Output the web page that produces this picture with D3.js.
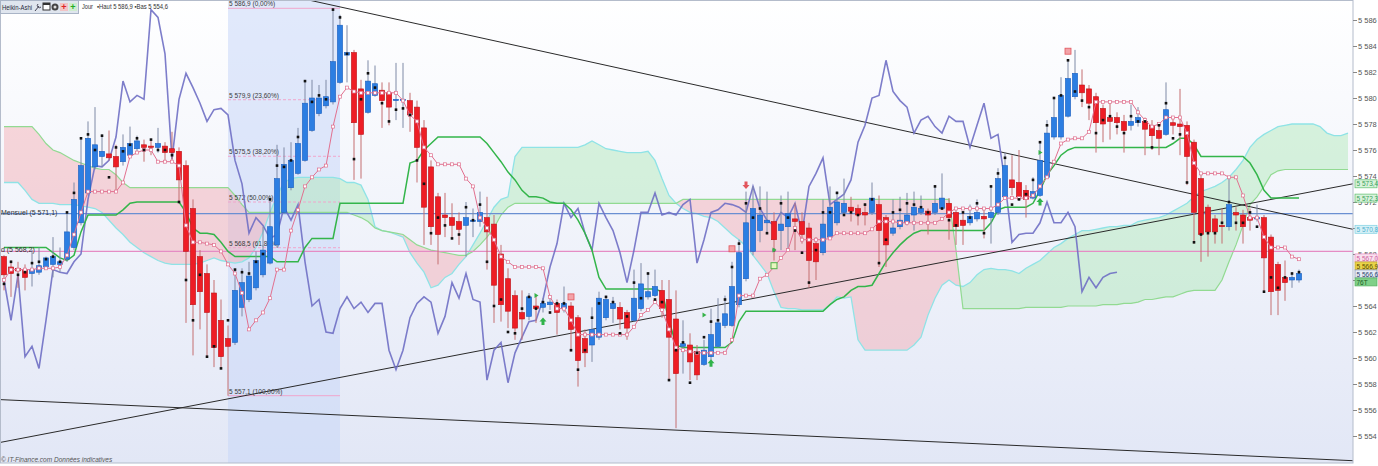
<!DOCTYPE html>
<html><head><meta charset="utf-8">
<script src="https://cdn.jsdelivr.net/npm/d3@7"></script>
<style>body{margin:0;background:#fff;} svg{display:block;font-family:Arial,"Liberation Sans",sans-serif;}</style>
</head><body><svg id="c" width="1378" height="466"></svg>
<script>
// ---------- DATA ----------
const haOpen = [5567.8,5567.0,5566.9,5566.8,5566.5,5566.6,5567.0,5567.2,5567.2,5567.6,
5568.5,5570.4,5572.7,5574.7,5575.5,5575.7,5575.5,5575.1,5575.6,5576.1,
5576.4,5576.3,5576.2,5576.3,5576.1,5575.9,5574.8,5571.5,5567.8,5566.5,
5565.0,5562.9,5561.5,5561.2,5563.9,5564.5,5565.4,5566.4,5567.3,5568.7,
5571.2,5573.1,5574.2,5575.2,5577.5,5578.8,5579.4,5579.7,5581.2,5583.3,
5583.5,5580.7,5578.9,5580.2,5580.6,5580.4,5579.8,5579.8,5579.8,5579.3,
5577.7,5574.7,5572.4,5571.0,5570.8,5570.5,5570.2,5570.5,5570.5,5570.8,
5570.3,5568.0,5566.1,5564.8,5563.5,5563.2,5564.0,5563.9,5564.1,5564.2,
5563.8,5564.0,5563.1,5561.5,5561.0,5561.6,5563.1,5563.8,5563.9,5563.5,
5562.9,5563.8,5564.7,5564.8,5565.2,5564.5,5563.0,5560.9,5561.0,5560.5,
5559.5,5560.1,5560.9,5562.5,5562.5,5564.1,5566.1,5568.2,5569.8,5570.4,
5570.5,5569.8,5570.1,5570.7,5570.5,5570.0,5568.8,5568.1,5569.3,5570.4,
5571.2,5571.6,5571.5,5571.2,5571.2,5571.8,5570.8,5569.6,5570.1,5570.4,
5571.0,5571.2,5571.3,5571.2,5571.5,5571.9,5571.2,5570.6,5570.4,5570.7,
5570.9,5570.8,5571.2,5572.4,5573.7,5573.5,5572.9,5572.3,5572.5,5573.9,
5577.0,5577.0,5578.6,5580.1,5581.0,5580.7,5580.1,5579.2,5578.5,5578.5,
5578.2,5577.9,5578.1,5578.2,5577.9,5577.5,5577.2,5578.1,5578.0,5577.9,
5576.6,5573.8,5571.6,5570.7,5570.2,5570.1,5571.2,5571.0,5570.8,5570.7,
5570.8,5569.3,5567.2,5566.2,5566.0,5566.0];
const haHigh = [5567.9,5567.5,5567.4,5567.2,5568.3,5568.5,5567.8,5569.3,5568.5,5571.2,
5573.5,5576.9,5578.2,5579.3,5577.2,5577.5,5576.4,5577.2,5577.8,5577.1,
5576.8,5576.8,5577.7,5576.6,5577.4,5576.2,5575.2,5572.2,5568.3,5567.2,
5566.0,5564.5,5562.5,5566.8,5566.9,5567.4,5568.2,5570.1,5572.2,5576.4,
5576.2,5576.6,5577.7,5581.3,5581.4,5581.0,5581.4,5586.9,5586.4,5585.6,
5583.7,5581.4,5582.9,5582.5,5581.2,5581.2,5582.7,5582.7,5580.4,5579.8,
5578.3,5575.2,5572.7,5572.7,5571.9,5571.2,5572.0,5571.5,5572.8,5572.4,
5571.0,5568.7,5566.9,5565.2,5565.2,5565.0,5564.8,5564.6,5564.8,5564.5,
5565.5,5564.3,5563.3,5562.2,5563.9,5565.1,5564.8,5564.7,5564.3,5563.7,
5566.8,5567.3,5566.6,5566.8,5566.0,5566.0,5565.2,5562.9,5561.9,5561.0,
5561.4,5563.8,5564.6,5564.8,5567.4,5569.1,5572.8,5573.2,5573.2,5572.8,
5571.2,5572.5,5572.8,5571.9,5571.2,5570.4,5569.3,5572.2,5573.2,5572.8,
5573.8,5572.4,5571.8,5571.9,5573.5,5572.5,5571.0,5572.2,5572.4,5572.7,
5572.8,5572.5,5571.5,5573.3,5574.2,5572.3,5571.5,5571.2,5571.8,5572.2,
5571.4,5573.2,5574.6,5575.8,5575.6,5576.0,5573.3,5573.9,5576.6,5578.3,
5580.0,5581.6,5582.9,5583.7,5582.2,5581.0,5580.4,5579.5,5579.7,5578.9,
5578.7,5579.5,5579.3,5578.5,5578.3,5577.9,5581.2,5578.5,5580.7,5578.2,
5576.8,5574.1,5571.8,5571.0,5571.5,5573.9,5571.6,5571.4,5571.5,5571.8,
5571.0,5569.5,5567.4,5567.5,5566.6,5566.8];
const haLow = [5565.2,5564.7,5565.4,5565.2,5565.5,5566.4,5566.8,5566.2,5566.6,5567.4,
5568.3,5570.2,5572.5,5574.5,5574.7,5575.2,5572.9,5574.8,5575.5,5575.9,
5575.1,5575.6,5575.8,5575.1,5575.2,5572.0,5562.7,5560.2,5562.2,5560.0,
5559.3,5559.2,5557.1,5561.0,5563.2,5564.3,5565.2,5566.2,5567.2,5568.5,
5571.1,5572.9,5574.1,5575.1,5577.4,5578.6,5579.2,5579.5,5581.1,5581.2,
5573.7,5573.8,5578.8,5580.1,5577.7,5577.9,5578.3,5577.7,5577.4,5573.5,
5568.7,5568.7,5567.2,5569.3,5569.3,5568.7,5567.8,5569.3,5570.1,5566.8,
5562.7,5562.8,5562.3,5561.4,5561.4,5562.9,5562.7,5563.5,5563.7,5561.8,
5563.5,5560.5,5557.8,5559.3,5559.7,5561.4,5562.9,5562.7,5562.2,5561.4,
5562.8,5563.6,5564.5,5564.7,5563.1,5558.3,5554.6,5558.8,5558.3,5558.3,
5559.4,5559.8,5560.8,5562.3,5562.4,5563.9,5565.9,5567.9,5568.9,5569.6,
5567.5,5568.3,5568.3,5568.3,5568.8,5565.4,5566.0,5567.9,5569.1,5570.2,
5571.0,5570.5,5570.2,5570.2,5571.0,5567.0,5567.0,5569.4,5569.9,5570.2,
5569.8,5571.0,5569.5,5571.0,5571.4,5569.1,5568.7,5568.7,5570.2,5570.5,
5569.2,5568.8,5571.0,5572.2,5572.5,5572.2,5570.8,5572.2,5572.4,5573.8,
5576.8,5576.8,5578.5,5579.9,5579.3,5578.3,5575.8,5576.6,5576.8,5577.2,
5575.8,5577.5,5577.8,5575.6,5576.0,5575.6,5577.1,5577.2,5575.6,5573.3,
5568.8,5567.4,5567.8,5568.8,5568.8,5569.8,5569.8,5568.8,5569.8,5570.5,
5565.0,5563.3,5563.3,5564.4,5565.4,5565.8];
const haClose = [5566.4,5566.5,5566.7,5566.2,5566.8,5567.1,5567.7,5567.8,5567.4,5569.7,
5572.2,5574.8,5576.9,5576.4,5575.9,5575.4,5574.7,5576.2,5576.5,5576.7,
5576.2,5576.2,5576.5,5575.8,5575.8,5573.7,5568.2,5564.1,5565.1,5563.5,
5560.8,5560.1,5560.9,5565.2,5565.8,5566.3,5567.5,5568.3,5570.1,5573.8,
5574.9,5575.2,5576.5,5579.6,5580.0,5580.0,5580.1,5582.8,5585.6,5583.5,
5578.1,5577.2,5581.3,5581.1,5579.8,5579.3,5579.9,5579.9,5578.7,5576.2,
5571.6,5570.1,5569.5,5570.8,5570.2,5569.9,5570.8,5570.6,5571.2,5569.7,
5565.6,5564.1,5563.6,5562.3,5563.0,5564.7,5563.8,5564.2,5564.3,5563.5,
5564.2,5562.2,5559.8,5560.4,5562.2,5564.6,5564.5,5564.2,5563.0,5562.3,
5564.6,5565.7,5565.1,5565.5,5563.8,5561.6,5558.8,5561.1,5559.7,5558.7,
5560.6,5561.8,5562.7,5563.4,5565.5,5568.1,5570.4,5571.5,5571.0,5570.6,
5569.1,5570.3,5571.1,5570.5,5569.5,5567.5,5567.4,5570.3,5571.6,5572.0,
5571.9,5571.3,5571.0,5571.0,5572.3,5569.8,5568.7,5570.0,5570.6,5571.0,
5571.6,5571.5,5571.0,5571.9,5572.3,5570.8,5570.1,5570.2,5570.9,5571.2,
5570.7,5571.2,5573.8,5574.8,5573.1,5572.4,5572.2,5572.8,5575.2,5577.3,
5578.5,5580.2,5581.5,5581.9,5580.4,5579.6,5578.1,5578.0,5578.2,5578.1,
5577.5,5578.2,5578.5,5577.6,5577.1,5576.9,5579.1,5577.9,5577.8,5575.5,
5571.2,5569.5,5569.7,5569.7,5570.1,5571.8,5571.0,5570.1,5570.6,5570.8,
5567.7,5565.1,5565.2,5565.8,5566.2,5566.5];
// real closes (black dots); the purple lagging line is this series drawn 26 bars back
const closes = [5565.7,5567.4,5566.4,5566.6,5567.3,5567.4,5567.6,5567.8,5567.4,5571.2,
5572.7,5576.9,5577.2,5576.0,5577.1,5573.9,5576.2,5575.9,5576.4,5576.9,
5576.0,5576.8,5576.0,5576.0,5575.6,5572.0,5566.0,5562.9,5566.4,5560.1,
5560.9,5559.2,5562.9,5566.8,5566.6,5566.5,5567.4,5568.0,5572.2,5574.8,
5574.7,5575.2,5577.0,5581.3,5579.7,5580.2,5579.9,5586.8,5586.2,5583.4,
5575.3,5579.9,5581.9,5580.8,5579.6,5578.2,5579.1,5579.2,5578.7,5575.2,
5573.4,5569.6,5570.8,5570.2,5569.2,5569.5,5571.6,5570.6,5571.8,5567.4,
5564.0,5564.5,5562.0,5561.9,5563.8,5564.7,5563.8,5564.3,5563.5,5564.2,
5564.2,5560.6,5559.1,5560.6,5563.1,5564.2,5564.7,5564.3,5561.9,5563.2,
5565.8,5564.6,5566.5,5564.5,5564.3,5558.3,5560.6,5561.2,5558.1,5560.4,
5561.6,5562.8,5562.9,5564.5,5567.0,5568.8,5571.9,5570.8,5571.5,5569.6,
5568.3,5571.9,5570.8,5569.8,5568.1,5565.8,5568.3,5571.2,5571.2,5572.7,
5571.0,5571.2,5571.0,5571.8,5572.2,5567.3,5569.1,5571.2,5571.4,5571.9,
5571.8,5571.6,5571.2,5573.2,5571.5,5570.6,5570.2,5571.2,5570.8,5571.9,
5569.6,5573.2,5574.2,5575.4,5571.8,5572.2,5572.6,5573.7,5576.6,5577.9,
5580.0,5580.2,5582.9,5580.5,5579.8,5579.3,5577.3,5578.3,5578.6,5577.8,
5577.3,5578.6,5578.2,5578.2,5576.2,5577.9,5579.6,5576.9,5577.2,5573.5,
5568.9,5569.5,5569.6,5569.6,5570.4,5572.0,5570.4,5570.4,5571.2,5570.1,
5565.1,5566.2,5565.4,5566.2,5566.5,5566.6];
const tenkan = [5566.0,5566.8,5566.8,5566.8,5566.8,5566.9,5566.9,5566.9,5567.0,5567.9,
5569.5,5571.2,5572.8,5572.8,5572.8,5572.8,5572.8,5573.5,5575.5,5575.8,
5576.0,5576.0,5575.1,5575.1,5575.1,5574.8,5570.2,5568.9,5568.9,5568.8,
5568.7,5568.2,5567.2,5566.5,5565.0,5562.2,5562.9,5563.5,5564.6,5566.8,
5566.8,5569.8,5571.4,5573.2,5573.9,5574.5,5574.8,5577.8,5580.1,5580.8,
5580.5,5580.4,5580.4,5580.4,5580.4,5580.4,5580.4,5579.8,5578.7,5578.2,
5576.2,5575.6,5574.9,5574.9,5574.9,5574.9,5573.8,5573.2,5570.8,5570.0,
5569.1,5567.8,5567.4,5567.0,5567.0,5567.0,5567.0,5566.9,5564.7,5563.8,
5563.8,5562.9,5561.8,5561.8,5561.8,5561.8,5561.8,5561.8,5561.8,5561.8,
5562.4,5563.3,5563.7,5564.3,5563.7,5562.2,5560.8,5560.6,5560.5,5560.4,
5560.4,5560.4,5560.4,5560.4,5561.4,5564.8,5564.8,5564.8,5566.1,5566.4,
5567.0,5567.7,5568.3,5570.0,5569.1,5569.1,5569.1,5569.1,5569.2,5569.6,
5569.6,5569.6,5569.6,5569.6,5569.9,5570.5,5570.5,5570.5,5570.4,5570.4,
5570.4,5570.4,5570.4,5570.4,5570.7,5571.2,5571.5,5571.5,5571.5,5571.5,
5571.5,5571.5,5571.8,5572.3,5572.3,5572.3,5572.3,5572.5,5573.2,5573.9,
5575.1,5576.5,5576.8,5576.9,5576.9,5577.4,5579.7,5579.7,5579.7,5579.7,
5579.7,5579.7,5578.9,5578.3,5577.8,5578.0,5578.5,5578.5,5578.5,5577.3,
5575.0,5574.2,5574.2,5574.2,5574.2,5573.9,5573.9,5572.5,5570.8,5570.8,
5569.3,5568.5,5568.5,5568.5,5567.8,5567.6];
const kijun = [5568.5,5568.5,5568.5,5568.5,5568.5,5568.5,5568.5,5568.1,5567.7,5567.5,
5567.9,5569.7,5571.0,5571.0,5571.0,5571.0,5571.0,5571.4,5571.9,5572.0,
5572.0,5572.0,5572.0,5572.0,5572.0,5572.0,5571.2,5570.0,5569.6,5569.6,
5569.5,5568.9,5568.2,5567.8,5567.8,5567.8,5567.8,5567.8,5567.8,5567.4,
5567.4,5567.4,5567.4,5568.5,5569.2,5569.2,5569.2,5569.2,5571.9,5571.9,
5571.9,5571.9,5571.9,5571.9,5571.9,5571.9,5571.9,5571.9,5575.0,5575.2,
5576.0,5576.5,5577.0,5577.0,5577.0,5577.0,5577.0,5577.0,5577.0,5576.5,
5575.8,5575.1,5574.3,5573.7,5572.9,5572.4,5572.4,5572.3,5572.0,5571.9,
5571.9,5571.4,5570.6,5569.6,5568.3,5566.2,5565.3,5565.3,5565.3,5565.3,
5565.3,5565.3,5565.3,5565.3,5565.1,5562.9,5561.0,5560.8,5560.8,5560.8,
5560.8,5560.8,5560.8,5560.8,5561.2,5562.8,5563.6,5563.6,5563.6,5563.6,
5563.6,5563.6,5563.6,5563.6,5563.6,5563.6,5563.6,5563.6,5564.1,5564.5,
5564.7,5565.2,5565.5,5565.5,5565.6,5566.5,5567.4,5568.1,5568.7,5569.2,
5569.6,5569.8,5569.8,5569.8,5569.8,5569.8,5569.8,5569.8,5569.8,5569.8,
5569.8,5570.4,5571.4,5571.6,5571.6,5571.6,5571.6,5571.9,5572.9,5574.1,
5574.8,5575.6,5576.0,5576.2,5576.2,5576.2,5576.2,5576.2,5576.2,5576.2,
5576.2,5576.2,5576.2,5576.2,5576.2,5576.2,5576.2,5576.5,5576.9,5576.9,
5576.4,5575.5,5575.5,5575.5,5575.5,5575.5,5575.5,5575.5,5575.0,5574.1,
5572.9,5572.3,5572.3,5572.3,5572.3,5572.3];
// Ichimoku cloud spans (projected 26 bars ahead, so they run past the last bar)
const spanA = [5573.5,5573.5,5573.5,5572.9,5572.2,5571.9,5571.9,5571.9,5571.8,5571.8,
5571.8,5571.7,5571.6,5571.5,5571.2,5570.6,5570.0,5569.5,5568.9,5568.5,
5568.1,5567.8,5567.5,5567.3,5567.2,5567.2,5567.2,5567.2,5567.3,5567.5,
5567.7,5567.5,5567.4,5567.3,5567.4,5567.7,5568.5,5569.7,5571.2,5572.5,
5573.5,5573.8,5573.9,5573.9,5573.9,5573.9,5573.9,5573.9,5573.8,5573.5,
5573.5,5573.3,5572.2,5570.1,5569.8,5569.7,5569.5,5569.3,5568.1,5567.3,
5566.6,5565.4,5565.6,5566.2,5566.5,5567.2,5567.8,5568.7,5569.6,5570.6,
5571.6,5572.2,5572.4,5575.5,5576.2,5576.2,5576.2,5576.2,5576.2,5576.2,
5576.2,5576.2,5576.2,5576.4,5576.7,5576.4,5576.1,5576.0,5575.9,5575.8,
5575.8,5575.8,5575.9,5575.2,5573.8,5572.5,5571.9,5571.5,5571.2,5571.1,
5570.9,5570.8,5570.5,5570.0,5569.5,5569.1,5568.6,5567.9,5567.2,5566.5,
5565.1,5563.9,5563.8,5563.8,5563.7,5563.7,5563.7,5563.7,5564.1,5564.7,
5564.6,5564.7,5561.4,5560.6,5560.6,5560.6,5560.6,5560.6,5560.6,5560.6,
5561.0,5561.6,5563.3,5564.6,5565.6,5566.0,5565.6,5565.5,5565.8,5566.4,
5566.8,5566.9,5566.8,5566.8,5566.7,5566.5,5566.9,5567.2,5567.5,5568.0,
5568.5,5568.8,5569.2,5569.5,5569.8,5569.8,5569.9,5570.0,5570.1,5570.1,
5570.2,5570.2,5570.5,5570.6,5570.7,5570.8,5571.0,5571.3,5571.6,5571.9,
5572.4,5572.8,5573.0,5573.2,5573.5,5573.9,5574.5,5575.2,5576.2,5576.8,
5577.2,5577.5,5577.8,5577.9,5578.0,5578.0,5578.0,5578.0,5577.8,5577.3,
5577.1,5577.1,5577.3];
const spanB = [5577.8,5577.8,5577.8,5577.8,5577.8,5577.2,5576.5,5576.0,5575.8,5575.5,
5575.2,5575.0,5574.8,5574.6,5574.5,5574.5,5574.1,5573.5,5573.1,5573.1,
5573.1,5573.1,5573.1,5573.1,5573.1,5573.1,5573.1,5573.1,5573.1,5573.1,
5573.1,5573.1,5573.1,5572.5,5571.8,5571.2,5571.2,5571.2,5571.2,5571.2,
5571.2,5571.2,5571.2,5571.2,5571.2,5571.2,5571.2,5571.2,5571.2,5571.2,
5571.0,5570.8,5570.5,5570.0,5569.8,5569.7,5569.6,5569.5,5569.1,5568.7,
5568.5,5568.3,5568.2,5568.1,5568.0,5567.9,5567.9,5568.2,5568.7,5569.3,
5570.0,5571.0,5571.6,5571.9,5571.9,5571.9,5571.9,5571.9,5571.9,5571.9,
5571.9,5571.9,5571.9,5571.9,5571.9,5571.9,5571.9,5571.9,5571.9,5571.9,
5571.9,5571.9,5571.9,5571.9,5571.9,5571.9,5571.9,5572.2,5572.2,5572.2,
5572.2,5572.2,5572.2,5572.2,5572.2,5572.2,5572.2,5572.2,5572.2,5572.2,
5572.2,5572.2,5572.2,5572.2,5572.2,5572.2,5572.2,5572.2,5572.2,5572.2,
5572.2,5572.2,5572.2,5572.2,5572.2,5572.2,5572.2,5572.2,5572.2,5572.2,
5572.2,5572.2,5572.2,5572.2,5572.2,5572.2,5568.3,5563.8,5563.8,5563.8,
5563.8,5563.8,5563.8,5563.8,5563.8,5563.8,5563.9,5563.9,5563.9,5563.9,
5563.9,5563.9,5564.0,5564.0,5564.0,5564.0,5564.0,5564.1,5564.1,5564.1,
5564.2,5564.2,5564.3,5564.5,5564.5,5564.6,5564.7,5564.7,5564.9,5565.1,
5565.2,5565.2,5565.2,5565.2,5566.0,5567.4,5568.7,5570.2,5571.8,5572.4,
5573.2,5574.1,5574.4,5574.5,5574.5,5574.5,5574.5,5574.5,5574.5,5574.5,
5574.5,5574.5,5574.5];
const yTicks = [5554,5556,5558,5560,5562,5564,5566,5568,5570,5572,5574,5576,5578,5580,5582,5584,5586];
const fibHigh = 5586.9, fibLow = 5557.1;
const fibPcts = [0, 0.236, 0.382, 0.5, 0.618, 1];
const fibLabels = ["5 586,9 (0,00%)","5 579,9 (23,60%)","5 575,5 (38,20%)","5 572 (50,00%)","5 568,5 (61,80%)","5 557,1 (100,00%)"];
const fibBars = [32, 48];
const trendLines = [
  {i0: 43.0, p0: 5587.6, i1: 192.7, p1: 5569.9},
  {i0: -0.6, p0: 5553.5, i1: 192.7, p1: 5573.4},
  {i0: -0.6, p0: 5556.8, i1: 192.7, p1: 5552.1}
];
const levelLines = [
  {p: 5571.1, label: "Mensuel (5 571,1)", color: "#6a8fd2", dx: 1},
  {p: 5568.2, label: "ad (5 568,2)", color: "#e58cc4", dx: -3}
];
const signals = [
  {i:77, p:5562.8, t:"up"}, {i:101, p:5559.6, t:"up"}, {i:148, p:5572.0, t:"up"},
  {i:106, p:5573.3, t:"down"},
  {i:81, p:5564.7, t:"rsq"}, {i:104, p:5568.4, t:"rsq"}, {i:152, p:5583.6, t:"rsq"},
  {i:110, p:5567.1, t:"gsq"},
  {i:76, p:5564.8, t:"tri"}, {i:100, p:5563.3, t:"tri"}, {i:110, p:5568.3, t:"tri"}, {i:148, p:5575.8, t:"tri"}
];
const rightLabels = [
  {p:5573.4, text:"5 573,4", bg:"#d9f2dc", stroke:"#5cbf6e", fg:"#3aa35a"},
  {p:5572.3, text:"5 572,3", bg:"#d9f2dc", stroke:"#5cbf6e", fg:"#3aa35a"},
  {p:5569.9, text:"5 570,8", bg:"#d6f1f7", stroke:"#7fcfe2", fg:"#4fb0cf"},
  {p:5567.0, text:"5 567,0", bg:"#f9e1ee", stroke:"#e58cc4", fg:"#d05d9c"},
  {p:5566.9, text:"5 566,9", bg:"#e9d449", stroke:"#b8a230", fg:"#5a4a00"},
  {p:5566.6, text:"5 566,6", bg:"#e7ecf6", stroke:"#7d8fb5", fg:"#2c3e6b"},
  {p:5566.6, text:"76T", bg:"#7fd088", stroke:"#56b060", fg:"#1d5a24"}
];

// ---------- CHART ----------
const W = 1378, H = 466, PW = 1353, PH = 463;
const svg = d3.select("#c");
const x = d3.scaleLinear().domain([0, 185]).range([4, 1299]);
const y = d3.scaleLinear().domain([5586, 5554]).range([20, 436]);
const defs = svg.append("defs");
const grad = defs.append("linearGradient").attr("id","bg").attr("x1",0).attr("y1",0).attr("x2",0).attr("y2",1);
grad.append("stop").attr("offset","0%").attr("stop-color","#ffffff");
grad.append("stop").attr("offset","100%").attr("stop-color","#e2e7f6");
defs.append("clipPath").attr("id","plot").append("rect").attr("width",PW).attr("height",PH);

svg.append("rect").attr("width",W).attr("height",H).attr("fill","#fff");
svg.append("rect").attr("width",PW).attr("height",PH).attr("fill","url(#bg)");
const g = svg.append("g").attr("clip-path","url(#plot)");

// Fibonacci zone
g.append("rect").attr("x", x(fibBars[0])).attr("y",0).attr("width", x(fibBars[1]) - x(fibBars[0])).attr("height", PH)
  .attr("fill","#c9d7f7").attr("opacity",0.55);

// cloud
const cloud = spanA.map((a,i)=>({i, a, b: spanB[i]}));
defs.append("clipPath").attr("id","belowB").append("path")
  .attr("d", d3.area().x(d=>x(d.i)).y0(d=>y(d.b)).y1(PH+20)(cloud));
defs.append("clipPath").attr("id","belowA").append("path")
  .attr("d", d3.area().x(d=>x(d.i)).y0(d=>y(d.a)).y1(PH+20)(cloud));
g.append("path").attr("d", d3.area().x(d=>x(d.i)).y0(-20).y1(d=>y(d.a))(cloud))
  .attr("clip-path","url(#belowB)").attr("fill","#f4a9b0").attr("opacity",0.45);
g.append("path").attr("d", d3.area().x(d=>x(d.i)).y0(-20).y1(d=>y(d.b))(cloud))
  .attr("clip-path","url(#belowA)").attr("fill","#a8e8b0").attr("opacity",0.42);
g.append("path").attr("d", d3.line().x(d=>x(d.i)).y(d=>y(d.a))(cloud)).attr("fill","none").attr("stroke","#8fe3e6").attr("stroke-width",1.3);
g.append("path").attr("d", d3.line().x(d=>x(d.i)).y(d=>y(d.b))(cloud)).attr("fill","none").attr("stroke","#92da92").attr("stroke-width",1.2);

// fib lines + labels
fibPcts.forEach((f,k)=>{
  const p = fibHigh - f*(fibHigh - fibLow);
  g.append("line").attr("x1", x(fibBars[0])).attr("x2", x(fibBars[1])).attr("y1", y(p)).attr("y2", y(p))
    .attr("stroke","#f0a6cc").attr("stroke-width",1).attr("stroke-dasharray", (k===0||k===5)?null:"3,2");
  g.append("text").attr("x", x(fibBars[0]) + 1).attr("y", y(p) - 2).text(fibLabels[k])
    .attr("font-size","6.5px").attr("fill","#3a3a3a");
});

// level lines
levelLines.forEach(l=>{
  g.append("line").attr("x1",0).attr("x2",PW).attr("y1",y(l.p)).attr("y2",y(l.p)).attr("stroke",l.color).attr("stroke-width",1.2);
});

// trend lines
trendLines.forEach(t=>{
  g.append("line").attr("x1",x(t.i0)).attr("y1",y(t.p0)).attr("x2",x(t.i1)).attr("y2",y(t.p1))
    .attr("stroke","#2a2a2a").attr("stroke-width",1);
});

// lagging (chikou) line: close plotted 26 bars back
const lag = closes.slice(26).map((v,i)=>({i, v}));
g.append("path").attr("d", d3.line().x(d=>x(d.i)).y(d=>y(d.v))(lag))
  .attr("fill","none").attr("stroke","#6f6fc4").attr("stroke-width",1.6).attr("opacity",0.9);

// kijun
g.append("path").attr("d", d3.line().x((d,i)=>x(i)).y(d=>y(d))(kijun))
  .attr("fill","none").attr("stroke","#33b54a").attr("stroke-width",1.5);

// candles
const candles = haOpen.map((o,i)=>({i, o, h: haHigh[i], l: haLow[i], c: haClose[i]}));
const cg = g.append("g");
cg.selectAll("line.w").data(candles).join("line").attr("class","w")
  .attr("x1",d=>x(d.i)).attr("x2",d=>x(d.i)).attr("y1",d=>y(d.h)).attr("y2",d=>y(d.l))
  .attr("stroke",d=>d.c>=d.o?"#7f8aa6":"#c46e70").attr("stroke-width",1);
cg.selectAll("rect.b").data(candles).join("rect").attr("class","b")
  .attr("x",d=>x(d.i)-2.6).attr("width",5.2)
  .attr("y",d=>y(Math.max(d.o,d.c))).attr("height",d=>Math.max(1.2, Math.abs(y(d.o)-y(d.c))))
  .attr("fill",d=>d.c>=d.o?"#2c7ee2":"#ee1d25").attr("stroke",d=>d.c>=d.o?"#1b5fbe":"#bb1419").attr("stroke-width",0.6);

// tenkan with square markers
g.append("path").attr("d", d3.line().x((d,i)=>x(i)).y(d=>y(d))(tenkan))
  .attr("fill","none").attr("stroke","#e2708f").attr("stroke-width",1);
g.selectAll("rect.tk").data(tenkan).join("rect").attr("class","tk")
  .attr("x",(d,i)=>x(i)-1.5).attr("y",d=>y(d)-1.5).attr("width",3).attr("height",3)
  .attr("fill","#fff").attr("stroke","#df6f8e").attr("stroke-width",0.7);

// real close dots
g.selectAll("rect.cl").data(closes).join("rect").attr("class","cl")
  .attr("x",(d,i)=>x(i)-1.3).attr("y",d=>y(d)-1.3).attr("width",2.6).attr("height",2.6).attr("fill","#111");

// signals
signals.forEach(s=>{
  const cx = x(s.i), cy = y(s.p);
  if (s.t==="up") {
    g.append("path").attr("d",`M${cx},${cy-4}L${cx+3.5},${cy}L${cx+1.5},${cy}L${cx+1.5},${cy+3.5}L${cx-1.5},${cy+3.5}L${cx-1.5},${cy}L${cx-3.5},${cy}Z`).attr("fill","#2fb34a");
  } else if (s.t==="down") {
    g.append("path").attr("d",`M${cx},${cy+4}L${cx+3.5},${cy}L${cx+1.5},${cy}L${cx+1.5},${cy-3.5}L${cx-1.5},${cy-3.5}L${cx-1.5},${cy}L${cx-3.5},${cy}Z`).attr("fill","#e2555c");
  } else if (s.t==="rsq") {
    g.append("rect").attr("x",cx-3).attr("y",cy-3).attr("width",6).attr("height",6).attr("fill","#f3a3a8").attr("stroke","#e2555c").attr("stroke-width",0.8);
  } else if (s.t==="gsq") {
    g.append("rect").attr("x",cx-3).attr("y",cy-3).attr("width",6).attr("height",6).attr("fill","#e8f6c0").attr("stroke","#4fb34a").attr("stroke-width",1);
  } else {
    g.append("path").attr("d",`M${cx-1.5},${cy-2.5}L${cx+2.5},${cy}L${cx-1.5},${cy+2.5}Z`).attr("fill","#36b34a");
  }
});

// level labels (left)
levelLines.forEach(l=>{
  g.append("text").attr("x", l.dx).attr("y", y(l.p)+1).text(l.label)
    .attr("font-size","7px").attr("fill","#333");
});

// plot frame
svg.append("rect").attr("x",0.5).attr("y",0.5).attr("width",PW-0.5).attr("height",PH-0.5).attr("fill","none").attr("stroke","#b4bccb").attr("stroke-width",1);

// right axis
const fmt = v => String(v).replace(/(\d)(\d{3})$/, "$1 $2");
const ax = svg.append("g").attr("transform",`translate(${PW},0)`)
  .call(d3.axisRight(y).tickValues(yTicks).tickSize(4).tickSizeOuter(0).tickFormat(fmt));
ax.select(".domain").remove();
ax.selectAll(".tick line").attr("stroke","#888");
ax.selectAll(".tick text").attr("font-size","7.5px").attr("fill","#555").attr("x",5).attr("font-family","Arial, sans-serif");

// right value labels with simple collision stacking
const lab = rightLabels.map(d=>({...d, yy: y(d.p)})).sort((a,b)=>a.yy-b.yy);
const gap = 8;
let groups = [];
lab.forEach(d=>{
  const last = groups[groups.length-1];
  if (last && d.yy - last[last.length-1].yy < gap) last.push(d); else groups.push([d]);
});
groups.forEach(gr=>{
  const m = d3.mean(gr, d=>d.yy);
  gr.forEach((d,k)=>{ d.pos = m + (k - (gr.length-1)/2)*gap; });
});
lab.forEach(d=>{
  svg.append("rect").attr("x",1355).attr("y",d.pos-4).attr("width",22).attr("height",8)
    .attr("fill",d.bg).attr("stroke",d.stroke).attr("stroke-width",0.7);
  svg.append("text").attr("x",1356.5).attr("y",d.pos+2.6).text(d.text)
    .attr("font-size","6.5px").attr("fill",d.fg);
});

// toolbar
const tb = svg.append("g");
tb.append("rect").attr("x",0.5).attr("y",0.5).attr("width",78).attr("height",13).attr("fill","#dfe5ee").attr("stroke","#a9b4c6");
tb.append("text").attr("x",2).attr("y",9.5).text("Heikin-Ashi").attr("font-size","6.5px").attr("fill","#1f2a3a")
  .attr("textLength",30).attr("lengthAdjust","spacingAndGlyphs");
tb.append("path").attr("d","M35,11 L39,6 M38,4 a2,2 0 1 0 3,3").attr("stroke","#445").attr("fill","none").attr("stroke-width",1);
tb.append("rect").attr("x",43).attr("y",3).attr("width",7).attr("height",7).attr("fill","#fff").attr("stroke","#333");
tb.append("rect").attr("x",43).attr("y",3).attr("width",7).attr("height",2).attr("fill","#333");
tb.append("circle").attr("cx",55).attr("cy",7).attr("r",3.5).attr("fill","#444");
tb.append("circle").attr("cx",55).attr("cy",7).attr("r",1.5).attr("fill","#ddd");
tb.append("rect").attr("x",60).attr("y",3).attr("width",8).attr("height",8).attr("fill","#f1c4c6");
tb.append("text").attr("x",61.2).attr("y",10).text("+").attr("font-size","9px").attr("fill","#d22").attr("font-weight","bold");
tb.append("rect").attr("x",69).attr("y",3).attr("width",8).attr("height",8).attr("fill","#cfeccf");
tb.append("text").attr("x",70.2).attr("y",10).text("+").attr("font-size","9px").attr("fill","#2a2").attr("font-weight","bold");
svg.append("text").attr("x",82).attr("y",8.5).text("Jour").attr("font-size","6.5px").attr("fill","#333")
  .attr("textLength",11).attr("lengthAdjust","spacingAndGlyphs");
svg.append("text").attr("x",97).attr("y",8.5).text("\u25AAHaut 5 586,9 \u25AABas 5 554,6").attr("font-size","6.5px").attr("fill","#333")
  .attr("textLength",71).attr("lengthAdjust","spacingAndGlyphs");

// copyright
svg.append("text").attr("x",1).attr("y",461.5).text("\u00A9 IT-Finance.com Données indicatives")
  .attr("font-size","6.5px").attr("font-style","italic").attr("fill","#555");
</script></body></html>
